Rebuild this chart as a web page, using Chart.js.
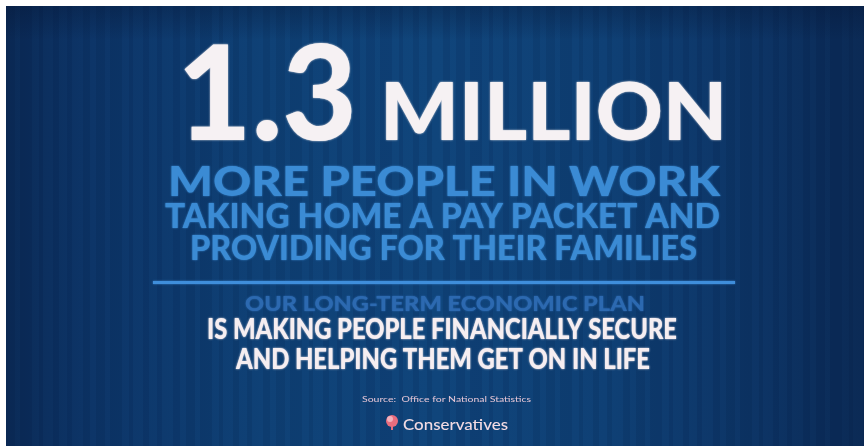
<!DOCTYPE html>
<html><head><meta charset="utf-8">
<script src="https://cdn.jsdelivr.net/npm/chart.js@4.4.1/dist/chart.umd.min.js"></script>
<style>html,body{margin:0;padding:0;background:#fff;}canvas{display:block;}</style>
</head><body>
<canvas id="c" width="864" height="446"></canvas>
<script>
// Content read from the infographic
const headlineValue = "1.3";
const headlineUnit = "MILLION";
const subLines = ["MORE PEOPLE IN WORK", "TAKING HOME A PAY PACKET AND", "PROVIDING FOR THEIR FAMILIES"];
const planLines = ["OUR LONG-TERM ECONOMIC PLAN", "IS MAKING PEOPLE FINANCIALLY SECURE", "AND HELPING THEM GET ON IN LIFE"];
const sourceText = "Source:  Office for National Statistics";
const brandText = "Conservatives";

const FONT = '"Lato", "Open Sans", "DejaVu Sans", sans-serif';

function fitText(ctx, text, x0, x1, top, base, color, weight, blur) {
  const cap = base - top;
  const size = cap / 0.72;
  ctx.save();
  ctx.font = (weight || 900) + ' ' + size + 'px ' + FONT;
  const w = ctx.measureText(text).width;
  const sx = (x1 - x0) / w;
  ctx.translate(x0, base);
  ctx.scale(sx, 1);
  ctx.fillStyle = color;
  ctx.textBaseline = 'alphabetic';
  ctx.textAlign = 'left';
  ctx.shadowColor = color;
  ctx.shadowBlur = blur === undefined ? 2 : blur;
  ctx.fillText(text, 0, 0);
  ctx.restore();
}

const poster = {
  id: 'poster',
  beforeDraw(chart) {
    const ctx = chart.ctx;
    const W = chart.width, H = chart.height;
    ctx.save();
    ctx.fillStyle = '#ffffff';
    ctx.fillRect(0, 0, W, H);
    const g = ctx.createLinearGradient(6, 0, W, 0);
    g.addColorStop(0, '#0b2b57');
    g.addColorStop(0.1, '#0d3568');
    g.addColorStop(0.3, '#0f4176');
    g.addColorStop(0.5, '#10457b');
    g.addColorStop(0.7, '#0f4075');
    g.addColorStop(0.88, '#0d3465');
    g.addColorStop(1, '#0b2a55');
    ctx.fillStyle = g;
    ctx.fillRect(6, 6, W - 6, H - 6);
    // subtle vertical stripes of varying width
    const widths = [9, 5, 12, 7, 4, 10, 6, 8, 5, 11, 7, 6];
    let x = 6, i = 0;
    while (x < W) {
      const w = widths[i % widths.length];
      if (i % 2 === 0) {
        ctx.fillStyle = 'rgba(0,12,40,0.09)';
        ctx.fillRect(x, 6, w, H - 6);
      }
      x += w; i++;
    }
    const tg = ctx.createLinearGradient(0, 6, 0, 40);
    tg.addColorStop(0, 'rgba(5,20,50,0.35)');
    tg.addColorStop(1, 'rgba(5,20,50,0)');
    ctx.fillStyle = tg;
    ctx.fillRect(6, 6, W - 6, 34);
    ctx.restore();
  },
  afterDraw(chart) {
    const ctx = chart.ctx;
    fitText(ctx, headlineValue, 177, 357, 45, 140, '#f6f1f3');
    fitText(ctx, headlineUnit, 380, 727, 82, 140, '#f6f1f3');
    const lb = '#3b8bd4';
    fitText(ctx, subLines[0], 168, 720, 166, 196, lb);
    fitText(ctx, subLines[1], 165, 720, 204, 228, lb);
    fitText(ctx, subLines[2], 190, 697, 236, 260, lb);
    ctx.save();
    ctx.fillStyle = '#3f8edb';
    ctx.shadowColor = '#3f8edb';
    ctx.shadowBlur = 2;
    ctx.fillRect(153, 281, 582, 3);
    ctx.restore();
    fitText(ctx, planLines[0], 245, 645, 296, 311, '#2c69b0');
    fitText(ctx, planLines[1], 207, 677, 319, 339, '#f6eef1');
    fitText(ctx, planLines[2], 236, 650, 349, 369, '#f6eef1');
    fitText(ctx, sourceText, 362, 531, 396, 402, '#e6c6d6', 400, 0);
    fitText(ctx, brandText, 403, 508, 419, 430, '#f2dbe3', 500, 0);
    ctx.save();
    ctx.fillStyle = '#e86d7e';
    ctx.beginPath();
    ctx.arc(392, 421, 6, 0, Math.PI * 2);
    ctx.fill();
    ctx.fillStyle = '#f2b0bc';
    ctx.beginPath();
    ctx.arc(390, 419, 3, 0, Math.PI * 2);
    ctx.fill();
    ctx.fillStyle = '#e86d7e';
    ctx.fillRect(391, 424, 2, 6);
    ctx.restore();
  }
};

new Chart(document.getElementById('c'), {
  type: 'bar',
  data: { labels: [headlineUnit], datasets: [{ data: [parseFloat(headlineValue)], backgroundColor: 'rgba(0,0,0,0)' }] },
  options: {
    responsive: false,
    animation: false,
    events: [],
    layout: { padding: 0 },
    plugins: { legend: { display: false }, tooltip: { enabled: false }, title: { display: false } },
    scales: { x: { display: false }, y: { display: false } }
  },
  plugins: [poster]
});
</script>
</body></html>
